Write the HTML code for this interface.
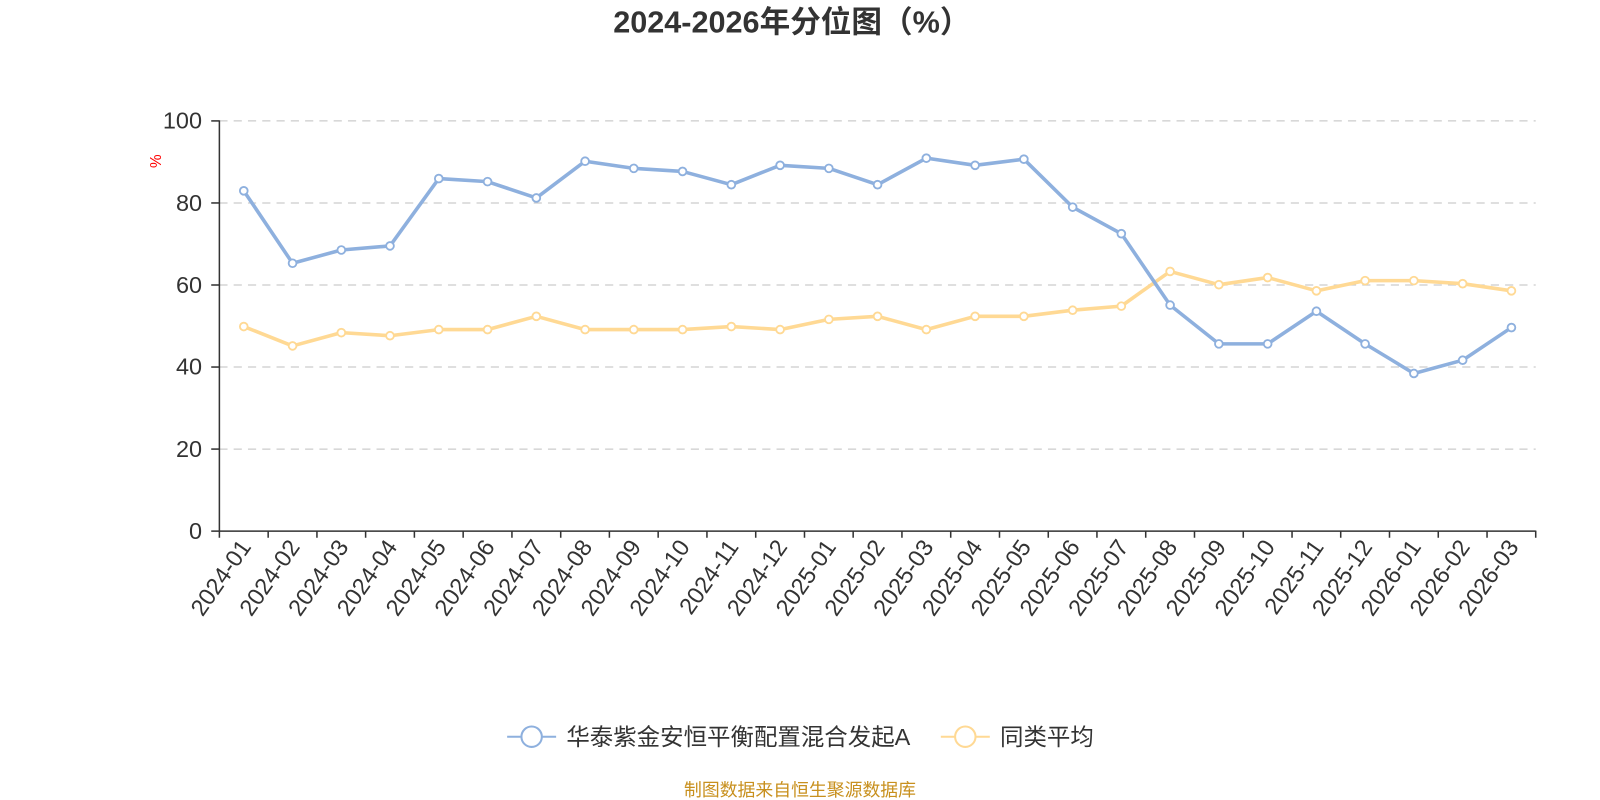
<!DOCTYPE html>
<html><head><meta charset="utf-8"><style>
html,body{margin:0;padding:0;background:#fff;width:1600px;height:800px;overflow:hidden}
svg{display:block;font-family:"Liberation Sans","Noto Sans CJK SC",sans-serif}
</style></head><body>
<svg width="1600" height="800" viewBox="0 0 1568 784" xmlns="http://www.w3.org/2000/svg">
<text x="776" y="32" text-anchor="middle" font-size="30" font-weight="bold" fill="#333">2024-2026年分位图（%）</text>
<g stroke="#ccc" stroke-width="1.2" stroke-dasharray="8,6">
<line x1="215" y1="118.5" x2="1505" y2="118.5"/>
<line x1="215" y1="198.9" x2="1505" y2="198.9"/>
<line x1="215" y1="279.3" x2="1505" y2="279.3"/>
<line x1="215" y1="359.7" x2="1505" y2="359.7"/>
<line x1="215" y1="440.1" x2="1505" y2="440.1"/>
</g>
<g stroke="#333" stroke-width="1.5">
<line x1="215" y1="118" x2="215" y2="520"/>
<line x1="215" y1="520.5" x2="1505" y2="520.5"/>
<line x1="207" y1="118.5" x2="215" y2="118.5"/>
<line x1="207" y1="198.9" x2="215" y2="198.9"/>
<line x1="207" y1="279.3" x2="215" y2="279.3"/>
<line x1="207" y1="359.7" x2="215" y2="359.7"/>
<line x1="207" y1="440.1" x2="215" y2="440.1"/>
<line x1="207" y1="520.5" x2="215" y2="520.5"/>
</g>
<g font-size="23" fill="#333" text-anchor="end">
<text x="198" y="126">100</text><text x="198" y="207">80</text><text x="198" y="287">60</text>
<text x="198" y="367">40</text><text x="198" y="448">20</text><text x="198" y="528">0</text>
</g>
<text transform="translate(158,158) rotate(-90)" text-anchor="middle" font-size="15" fill="red">%</text>
<g stroke="#333" stroke-width="1.5">
<line x1="215" y1="520" x2="215" y2="527"/><line x1="262.8" y1="520" x2="262.8" y2="527"/><line x1="310.6" y1="520" x2="310.6" y2="527"/><line x1="358.3" y1="520" x2="358.3" y2="527"/><line x1="406.1" y1="520" x2="406.1" y2="527"/><line x1="453.9" y1="520" x2="453.9" y2="527"/><line x1="501.7" y1="520" x2="501.7" y2="527"/><line x1="549.5" y1="520" x2="549.5" y2="527"/><line x1="597.2" y1="520" x2="597.2" y2="527"/><line x1="645" y1="520" x2="645" y2="527"/><line x1="692.8" y1="520" x2="692.8" y2="527"/><line x1="740.6" y1="520" x2="740.6" y2="527"/><line x1="788.4" y1="520" x2="788.4" y2="527"/><line x1="836.1" y1="520" x2="836.1" y2="527"/><line x1="883.9" y1="520" x2="883.9" y2="527"/><line x1="931.7" y1="520" x2="931.7" y2="527"/><line x1="979.5" y1="520" x2="979.5" y2="527"/><line x1="1027.3" y1="520" x2="1027.3" y2="527"/><line x1="1075" y1="520" x2="1075" y2="527"/><line x1="1122.8" y1="520" x2="1122.8" y2="527"/><line x1="1170.6" y1="520" x2="1170.6" y2="527"/><line x1="1218.4" y1="520" x2="1218.4" y2="527"/><line x1="1266.2" y1="520" x2="1266.2" y2="527"/><line x1="1313.9" y1="520" x2="1313.9" y2="527"/><line x1="1361.7" y1="520" x2="1361.7" y2="527"/><line x1="1409.5" y1="520" x2="1409.5" y2="527"/><line x1="1457.3" y1="520" x2="1457.3" y2="527"/><line x1="1505" y1="520" x2="1505" y2="527"/>
</g>
<g font-size="23" fill="#333" text-anchor="end">
<text transform="translate(246.9,536) rotate(-55)">2024-01</text>
<text transform="translate(294.7,536) rotate(-55)">2024-02</text>
<text transform="translate(342.5,536) rotate(-55)">2024-03</text>
<text transform="translate(390.2,536) rotate(-55)">2024-04</text>
<text transform="translate(438,536) rotate(-55)">2024-05</text>
<text transform="translate(485.8,536) rotate(-55)">2024-06</text>
<text transform="translate(533.6,536) rotate(-55)">2024-07</text>
<text transform="translate(581.4,536) rotate(-55)">2024-08</text>
<text transform="translate(629.1,536) rotate(-55)">2024-09</text>
<text transform="translate(676.9,536) rotate(-55)">2024-10</text>
<text transform="translate(724.7,536) rotate(-55)">2024-11</text>
<text transform="translate(772.5,536) rotate(-55)">2024-12</text>
<text transform="translate(820.3,536) rotate(-55)">2025-01</text>
<text transform="translate(868,536) rotate(-55)">2025-02</text>
<text transform="translate(915.8,536) rotate(-55)">2025-03</text>
<text transform="translate(963.6,536) rotate(-55)">2025-04</text>
<text transform="translate(1011.4,536) rotate(-55)">2025-05</text>
<text transform="translate(1059.2,536) rotate(-55)">2025-06</text>
<text transform="translate(1106.9,536) rotate(-55)">2025-07</text>
<text transform="translate(1154.7,536) rotate(-55)">2025-08</text>
<text transform="translate(1202.5,536) rotate(-55)">2025-09</text>
<text transform="translate(1250.3,536) rotate(-55)">2025-10</text>
<text transform="translate(1298.1,536) rotate(-55)">2025-11</text>
<text transform="translate(1345.8,536) rotate(-55)">2025-12</text>
<text transform="translate(1393.6,536) rotate(-55)">2026-01</text>
<text transform="translate(1441.4,536) rotate(-55)">2026-02</text>
<text transform="translate(1489.2,536) rotate(-55)">2026-03</text>
</g>
<polyline fill="none" stroke="#ffd994" stroke-width="3.5" stroke-linejoin="round" points="238.9,320 286.7,339 334.5,326 382.2,329 430,323 477.8,323 525.6,310 573.4,323 621.1,323 668.9,323 716.7,320 764.5,323 812.3,313 860,310 907.8,323 955.6,310 1003.4,310 1051.2,304 1098.9,300 1146.7,266 1194.5,279 1242.3,272 1290.1,285 1337.8,275 1385.6,275 1433.4,278 1481.2,285"/>
<g fill="#fff" stroke="#ffd994" stroke-width="1.8">
<circle cx="238.9" cy="320" r="3.8"/><circle cx="286.7" cy="339" r="3.8"/><circle cx="334.5" cy="326" r="3.8"/><circle cx="382.2" cy="329" r="3.8"/><circle cx="430" cy="323" r="3.8"/><circle cx="477.8" cy="323" r="3.8"/><circle cx="525.6" cy="310" r="3.8"/><circle cx="573.4" cy="323" r="3.8"/><circle cx="621.1" cy="323" r="3.8"/><circle cx="668.9" cy="323" r="3.8"/><circle cx="716.7" cy="320" r="3.8"/><circle cx="764.5" cy="323" r="3.8"/><circle cx="812.3" cy="313" r="3.8"/><circle cx="860" cy="310" r="3.8"/><circle cx="907.8" cy="323" r="3.8"/><circle cx="955.6" cy="310" r="3.8"/><circle cx="1003.4" cy="310" r="3.8"/><circle cx="1051.2" cy="304" r="3.8"/><circle cx="1098.9" cy="300" r="3.8"/><circle cx="1146.7" cy="266" r="3.8"/><circle cx="1194.5" cy="279" r="3.8"/><circle cx="1242.3" cy="272" r="3.8"/><circle cx="1290.1" cy="285" r="3.8"/><circle cx="1337.8" cy="275" r="3.8"/><circle cx="1385.6" cy="275" r="3.8"/><circle cx="1433.4" cy="278" r="3.8"/><circle cx="1481.2" cy="285" r="3.8"/>
</g>
<polyline fill="none" stroke="#8eb0de" stroke-width="3.5" stroke-linejoin="round" points="238.9,187 286.7,258 334.5,245 382.2,241 430,175 477.8,178 525.6,194 573.4,158 621.1,165 668.9,168 716.7,181 764.5,162 812.3,165 860,181 907.8,155 955.6,162 1003.4,156 1051.2,203 1098.9,229 1146.7,299 1194.5,337 1242.3,337 1290.1,305 1337.8,337 1385.6,366 1433.4,353 1481.2,321"/>
<g fill="#fff" stroke="#8eb0de" stroke-width="1.8">
<circle cx="238.9" cy="187" r="3.8"/><circle cx="286.7" cy="258" r="3.8"/><circle cx="334.5" cy="245" r="3.8"/><circle cx="382.2" cy="241" r="3.8"/><circle cx="430" cy="175" r="3.8"/><circle cx="477.8" cy="178" r="3.8"/><circle cx="525.6" cy="194" r="3.8"/><circle cx="573.4" cy="158" r="3.8"/><circle cx="621.1" cy="165" r="3.8"/><circle cx="668.9" cy="168" r="3.8"/><circle cx="716.7" cy="181" r="3.8"/><circle cx="764.5" cy="162" r="3.8"/><circle cx="812.3" cy="165" r="3.8"/><circle cx="860" cy="181" r="3.8"/><circle cx="907.8" cy="155" r="3.8"/><circle cx="955.6" cy="162" r="3.8"/><circle cx="1003.4" cy="156" r="3.8"/><circle cx="1051.2" cy="203" r="3.8"/><circle cx="1098.9" cy="229" r="3.8"/><circle cx="1146.7" cy="299" r="3.8"/><circle cx="1194.5" cy="337" r="3.8"/><circle cx="1242.3" cy="337" r="3.8"/><circle cx="1290.1" cy="305" r="3.8"/><circle cx="1337.8" cy="337" r="3.8"/><circle cx="1385.6" cy="366" r="3.8"/><circle cx="1433.4" cy="353" r="3.8"/><circle cx="1481.2" cy="321" r="3.8"/>
</g>
<line x1="497" y1="722" x2="545" y2="722" stroke="#8eb0de" stroke-width="2"/>
<circle cx="521" cy="722" r="10" fill="#fff" stroke="#8eb0de" stroke-width="2"/>
<text x="555" y="730" font-size="23" fill="#333">华泰紫金安恒平衡配置混合发起A</text>
<line x1="922" y1="722" x2="970" y2="722" stroke="#ffd994" stroke-width="2"/>
<circle cx="946" cy="722" r="10" fill="#fff" stroke="#ffd994" stroke-width="2"/>
<text x="980" y="730" font-size="23" fill="#333">同类平均</text>
<text x="784" y="780" text-anchor="middle" font-size="17.5" fill="#c8901e">制图数据来自恒生聚源数据库</text>
</svg>
</body></html>
